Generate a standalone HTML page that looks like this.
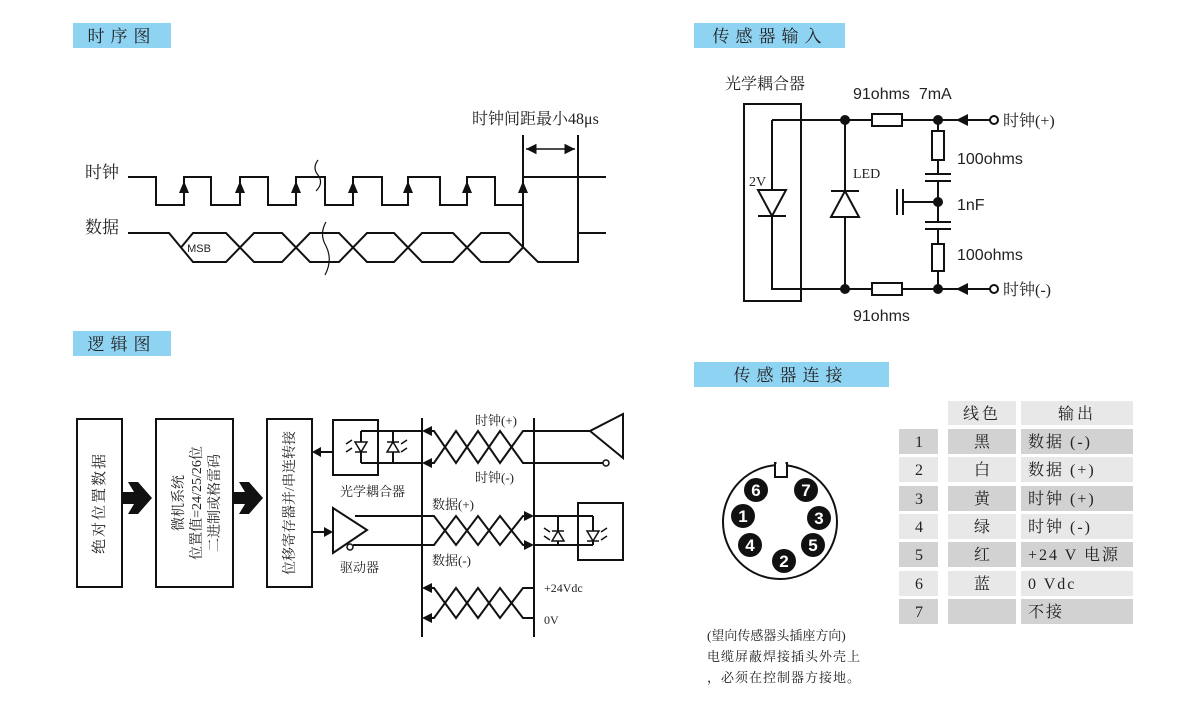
<!DOCTYPE html>
<html><head><meta charset="utf-8"><style>
body{margin:0;background:#fff;}
svg{display:block;}
text{font-family:"Liberation Serif","Noto Serif CJK SC",serif;fill:#222;}
text.s{font-family:"Liberation Sans","Noto Sans CJK SC",sans-serif;}
text.w{fill:#fff;font-family:"Liberation Sans",sans-serif;font-weight:bold;}
</style></head><body>
<svg width="1200" height="711" viewBox="0 0 1200 711" xmlns="http://www.w3.org/2000/svg">
<defs>
<marker id="ah" viewBox="0 0 10 10" refX="10" refY="5" markerWidth="7" markerHeight="7" orient="auto-start-reverse"><path d="M0,0L10,5L0,10z" fill="#111"/></marker>
</defs>
<!-- headers -->
<g font-size="17">
<rect x="73" y="23" width="98" height="25" fill="#8fd3f3"/><text x="122" y="42" text-anchor="middle" letter-spacing="6">时序图</text>
<rect x="694" y="23" width="151" height="25" fill="#8fd3f3"/><text x="770" y="42" text-anchor="middle" letter-spacing="6">传感器输入</text>
<rect x="73" y="331" width="98" height="25" fill="#8fd3f3"/><text x="122" y="350" text-anchor="middle" letter-spacing="6">逻辑图</text>
<rect x="694" y="362" width="195" height="25" fill="#8fd3f3"/><text x="791" y="381" text-anchor="middle" letter-spacing="6">传感器连接</text>
</g>

<!-- timing -->
<g stroke="#111" stroke-width="2" fill="none">
<polyline points="128,177 156,177 156,205 184,205 184,177 211,177 211,205 240,205 240,177 268,177 268,205 296,205 296,177 325,177 325,205 353,205 353,177 382,177 382,205 408,205 408,177 440,177 440,205 467,205 467,177 495,177 495,205 523,205 523,177 606,177"/>
<polyline points="128,233 169,233 193,262 226,262 254,233 282,233 310,262 339,262 367,233 394,233 422,262 453,262 481,233 509,233 538,262 578,262 578,233 606,233"/>
<polyline points="181,247.5 193,233 226,233 254,262 282,262 310,233 339,233 367,262 394,262 422,233 453,233 481,262 509,262 523,247.5"/>
<line x1="523" y1="135" x2="523" y2="247"/>
<line x1="578" y1="135" x2="578" y2="262"/>
<line x1="526" y1="149" x2="575" y2="149" marker-start="url(#ah)" marker-end="url(#ah)" stroke-width="1.5"/>
<path d="M318,160 q-6,8 0,15 q6,8 -2,16" stroke-width="1.2"/>
<path d="M326,222 q-7,12 0,24 q7,14 -1,29" stroke-width="1.2"/>
</g>
<g fill="#111">
<path d="M184,181 l-5,12 h10z"/><path d="M240,181 l-5,12 h10z"/><path d="M296,181 l-5,12 h10z"/><path d="M353,181 l-5,12 h10z"/><path d="M408,181 l-5,12 h10z"/><path d="M467,181 l-5,12 h10z"/><path d="M523,181 l-5,12 h10z"/>
</g>
<text x="199" y="252" font-size="11" class="s" text-anchor="middle">MSB</text>
<text x="85" y="178" font-size="17">时钟</text>
<text x="85" y="233" font-size="17">数据</text>
<text x="472" y="124" font-size="16">时钟间距最小48μs</text>

<!-- logic -->
<g stroke="#111" stroke-width="2" fill="none">
<rect x="77" y="419" width="45" height="168"/>
<rect x="156" y="419" width="77" height="168"/>
<rect x="267" y="419" width="45" height="168"/>
<rect x="333" y="420" width="45" height="55"/>
<line x1="422" y1="418" x2="422" y2="637"/>
<line x1="534" y1="418" x2="534" y2="637"/>
<polyline points="361,431 422,431"/><polyline points="361,463 422,463"/><line x1="361" y1="431" x2="361" y2="463"/><line x1="393" y1="431" x2="393" y2="463"/>
<polyline points="426,431 434,431 456,463 478,431 500,463 523,431 534,431 590,431"/>
<polyline points="426,463 434,463 456,431 478,463 500,431 523,463 534,463 603,463"/>
<path d="M623,414 L590,431 L623,458z" fill="#fff"/>
<circle cx="606" cy="463" r="3" fill="#fff" stroke-width="1.5"/>
<line x1="333" y1="452" x2="318" y2="452"/>
<line x1="312" y1="532" x2="328" y2="532"/>
<path d="M333,508 L367,530 L333,553z" fill="#fff"/>
<circle cx="350" cy="547" r="3" fill="#fff" stroke-width="1.5"/>
<polyline points="355,516 422,516 434,516 456,545 478,516 500,545 523,516 529,516"/>
<polyline points="353,545 422,545 434,545 456,516 478,545 500,516 523,545 529,545"/>
<polyline points="534,516 593,516"/><polyline points="534,545 593,545"/>
<line x1="558" y1="516" x2="558" y2="545"/><line x1="593" y1="516" x2="593" y2="545"/>
<rect x="578" y="503" width="45" height="57"/>
<polyline points="426,588 434,588 456,618 478,588 500,618 523,588 534,588"/>
<polyline points="426,618 434,618 456,588 478,618 500,588 523,618 534,618"/>
</g>
<g fill="#111">
<path d="M312,452 l9,-5 v10z"/><path d="M333,532 l-9,-5 v10z"/>
<path d="M422,431 l10,-5 v10z"/><path d="M422,463 l10,-5 v10z"/>
<path d="M534,516 l-10,-5 v10z"/><path d="M534,545 l-10,-5 v10z"/>
<path d="M422,588 l10,-5 v10z"/><path d="M422,618 l10,-5 v10z"/>
<path d="M122,492 h12 l-6,-10 h10 l14,16 -14,16 h-10 l6,-10 h-12z"/>
<path d="M233,492 h12 l-6,-10 h10 l14,16 -14,16 h-10 l6,-10 h-12z"/>
</g>
<g stroke="#111" stroke-width="1.5" fill="#fff">
<path d="M355,442 h12 l-6,10z"/><line x1="355" y1="452" x2="367" y2="452"/>
<path d="M387,452 h12 l-6,-10z"/><line x1="387" y1="442" x2="399" y2="442"/>
<path d="M552,541 h12 l-6,-10z"/><line x1="552" y1="531" x2="564" y2="531"/>
<path d="M587,531 h12 l-6,10z"/><line x1="587" y1="541" x2="599" y2="541"/>
<path d="M352,440 l-6,4 M352,448 l-6,4 M401,444 l6,-4 M401,452 l6,-4 M550,532 l-6,-4 M550,540 l-6,-4 M601,532 l6,-4 M601,540 l6,-4" fill="none"/>
</g>
<g font-size="14">
<text transform="translate(104,503) rotate(-90)" text-anchor="middle" letter-spacing="2" font-size="15">绝对位置数据</text>
<text transform="translate(183,503) rotate(-90)" text-anchor="middle" font-size="14">微机系统</text>
<text transform="translate(201,503) rotate(-90)" text-anchor="middle" font-size="14">位置值=24/25/26位</text>
<text transform="translate(219,503) rotate(-90)" text-anchor="middle" font-size="14">二进制或格雷码</text>
<text transform="translate(294,503) rotate(-90)" text-anchor="middle" font-size="14">位移寄存器并/串连转接</text>
<text x="475" y="425" font-size="13">时钟(+)</text>
<text x="475" y="482" font-size="13">时钟(-)</text>
<text x="340" y="496" font-size="13">光学耦合器</text>
<text x="432" y="509" font-size="13">数据(+)</text>
<text x="432" y="565" font-size="13">数据(-)</text>
<text x="340" y="572" font-size="13">驱动器</text>
<text x="544" y="592" font-size="12">+24Vdc</text>
<text x="544" y="624" font-size="12">0V</text>
</g>

<!-- sensor input -->
<g stroke="#111" stroke-width="2" fill="none">
<rect x="744" y="104" width="57" height="197"/>
<polyline points="772,120 872,120"/><polyline points="902,120 990,120"/>
<polyline points="772,120 772,289 872,289"/><polyline points="902,289 990,289"/>
<line x1="845" y1="120" x2="845" y2="289"/>
<rect x="872" y="114" width="30" height="12"/><rect x="872" y="283" width="30" height="12"/>
<line x1="938" y1="120" x2="938" y2="174"/><line x1="938" y1="181" x2="938" y2="222"/><line x1="938" y1="229" x2="938" y2="289"/>
<rect x="932" y="131" width="12" height="29" fill="#fff"/><rect x="932" y="244" width="12" height="27" fill="#fff"/>
<line x1="925" y1="174" x2="951" y2="174"/><line x1="925" y1="181" x2="951" y2="181"/>
<line x1="925" y1="222" x2="951" y2="222"/><line x1="925" y1="229" x2="951" y2="229"/>
<line x1="903" y1="202" x2="938" y2="202"/><line x1="897" y1="189" x2="897" y2="215"/><line x1="903" y1="189" x2="903" y2="215"/>
<path d="M758,190 h28 l-14,26z" fill="#fff"/><line x1="758" y1="216" x2="786" y2="216"/>
<path d="M831,217 h28 l-14,-26z" fill="#fff"/><line x1="831" y1="191" x2="859" y2="191"/>
<circle cx="994" cy="120" r="4" fill="#fff"/><circle cx="994" cy="289" r="4" fill="#fff"/>
</g>
<g fill="#111">
<circle cx="845" cy="120" r="5"/><circle cx="845" cy="289" r="5"/><circle cx="938" cy="120" r="5"/><circle cx="938" cy="289" r="5"/><circle cx="938" cy="202" r="5"/>
<path d="M956,120 l12,-6 v12z"/><path d="M956,289 l12,-6 v12z"/>
</g>
<g font-size="16">
<text x="725" y="89">光学耦合器</text>
<text x="853" y="99" class="s">91ohms&#160;&#160;7mA</text>
<text x="957" y="164" class="s">100ohms</text>
<text x="957" y="210" class="s">1nF</text>
<text x="957" y="260" class="s">100ohms</text>
<text x="853" y="321" class="s">91ohms</text>
<text x="853" y="178" font-size="14">LED</text>
<text x="749" y="186" font-size="14">2V</text>
<text x="1003" y="126">时钟(+)</text>
<text x="1003" y="295">时钟(-)</text>
</g>

<!-- connector -->
<circle cx="780" cy="522" r="57" fill="#fff" stroke="#111" stroke-width="2"/>
<rect x="775" y="463" width="12" height="14" fill="#fff" stroke="#111" stroke-width="2"/>
<rect x="776.5" y="462" width="9" height="4" fill="#fff"/>
<g fill="#111"><circle cx="756" cy="490" r="12"/><circle cx="806" cy="490" r="12"/><circle cx="743" cy="516" r="12"/><circle cx="819" cy="518" r="12"/><circle cx="750" cy="545" r="12"/><circle cx="813" cy="545" r="12"/><circle cx="784" cy="561" r="12"/></g>
<g font-size="17" text-anchor="middle">
<text class="w" x="756" y="496">6</text><text class="w" x="806" y="496">7</text><text class="w" x="743" y="522">1</text><text class="w" x="819" y="524">3</text><text class="w" x="750" y="551">4</text><text class="w" x="813" y="551">5</text><text class="w" x="784" y="567">2</text>
</g>
<g font-size="13">
<text x="707" y="640">(望向传感器头插座方向)</text>
<text x="707" y="661" letter-spacing="1">电缆屏蔽焊接插头外壳上</text>
<text x="707" y="682" letter-spacing="1">，必须在控制器方接地。</text>
</g>

<!-- table -->
<g>
<rect x="948" y="401" width="68" height="24" fill="#e8e8e8"/><rect x="1021" y="401" width="112" height="24" fill="#e8e8e8"/>
<rect x="899" y="429" width="39" height="25" fill="#d2d2d2"/><rect x="948" y="429" width="68" height="25" fill="#d2d2d2"/><rect x="1021" y="429" width="112" height="25" fill="#d2d2d2"/>
<rect x="899" y="457" width="39" height="25" fill="#e8e8e8"/><rect x="948" y="457" width="68" height="25" fill="#e8e8e8"/><rect x="1021" y="457" width="112" height="25" fill="#e8e8e8"/>
<rect x="899" y="486" width="39" height="25" fill="#d2d2d2"/><rect x="948" y="486" width="68" height="25" fill="#d2d2d2"/><rect x="1021" y="486" width="112" height="25" fill="#d2d2d2"/>
<rect x="899" y="514" width="39" height="25" fill="#e8e8e8"/><rect x="948" y="514" width="68" height="25" fill="#e8e8e8"/><rect x="1021" y="514" width="112" height="25" fill="#e8e8e8"/>
<rect x="899" y="542" width="39" height="25" fill="#d2d2d2"/><rect x="948" y="542" width="68" height="25" fill="#d2d2d2"/><rect x="1021" y="542" width="112" height="25" fill="#d2d2d2"/>
<rect x="899" y="571" width="39" height="25" fill="#e8e8e8"/><rect x="948" y="571" width="68" height="25" fill="#e8e8e8"/><rect x="1021" y="571" width="112" height="25" fill="#e8e8e8"/>
<rect x="899" y="599" width="39" height="25" fill="#d2d2d2"/><rect x="948" y="599" width="68" height="25" fill="#d2d2d2"/><rect x="1021" y="599" width="112" height="25" fill="#d2d2d2"/>
</g>
<g font-size="16">
<text x="982" y="419" text-anchor="middle" letter-spacing="3">线色</text><text x="1077" y="419" text-anchor="middle" letter-spacing="3">输出</text>
<g text-anchor="middle">
<text x="919" y="447">1</text><text x="919" y="475">2</text><text x="919" y="504">3</text><text x="919" y="532">4</text><text x="919" y="560">5</text><text x="919" y="589">6</text><text x="919" y="617">7</text>
<text x="982" y="447">黑</text><text x="982" y="475">白</text><text x="982" y="504">黄</text><text x="982" y="532">绿</text><text x="982" y="560">红</text><text x="982" y="589">蓝</text>
</g>
<g letter-spacing="2">
<text x="1028" y="447">数据 (-)</text><text x="1028" y="475">数据 (+)</text><text x="1028" y="504">时钟 (+)</text><text x="1028" y="532">时钟 (-)</text><text x="1028" y="560">+24 V 电源</text><text x="1028" y="589">0 Vdc</text><text x="1028" y="617">不接</text>
</g>
</g>
</svg>
</body></html>
